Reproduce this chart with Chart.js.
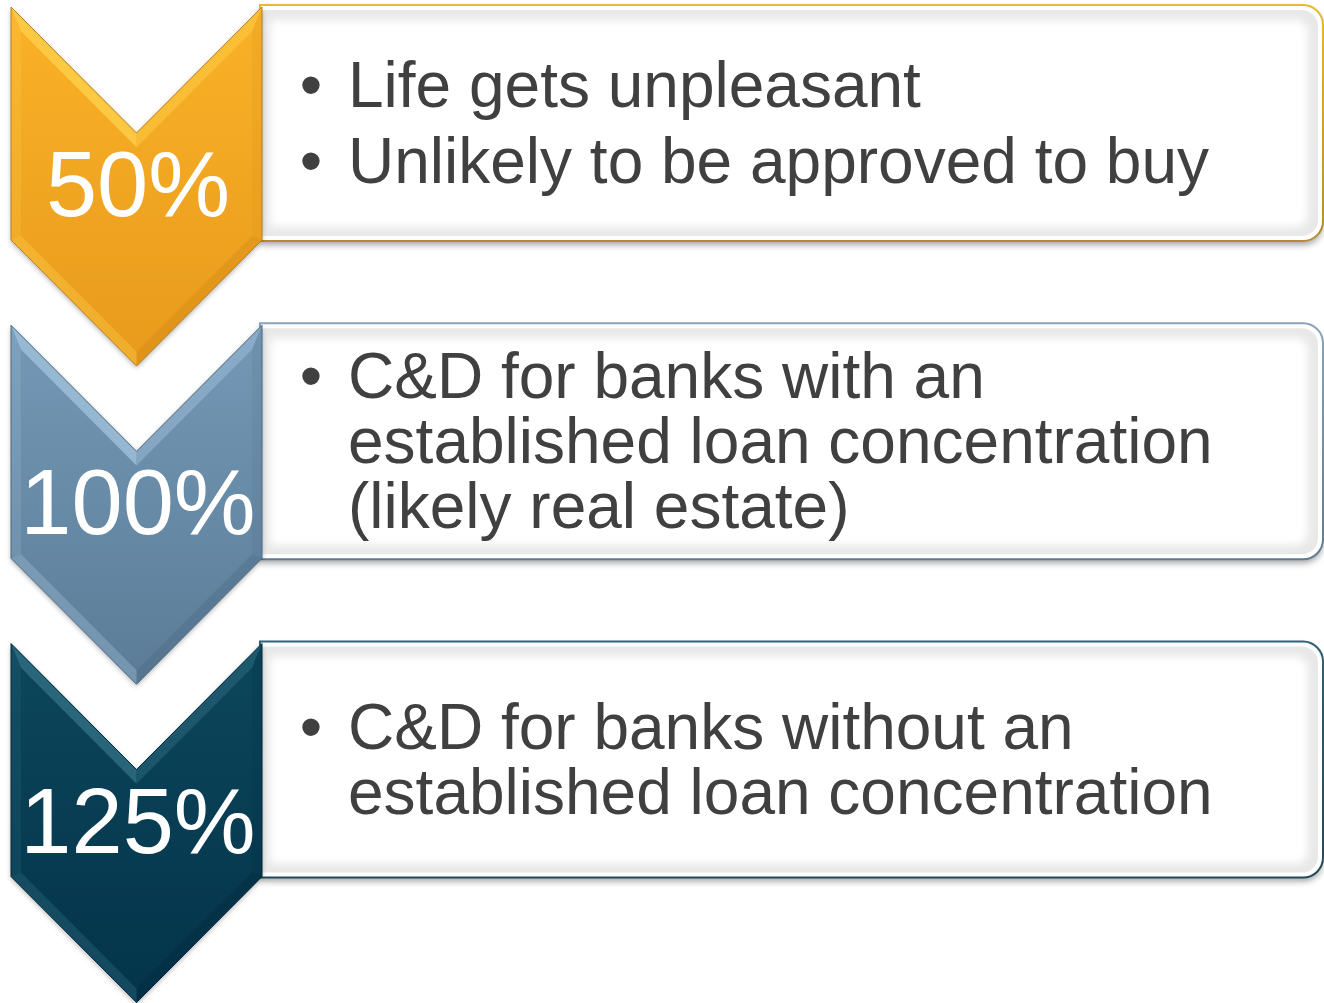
<!DOCTYPE html>
<html>
<head>
<meta charset="utf-8">
<script src="https://cdn.jsdelivr.net/npm/chart.js@4.4.1/dist/chart.umd.min.js"></script>
<style>
html, body { margin: 0; padding: 0; background: #fff; }
#wrap { width: 1324px; height: 1003px; }
</style>
</head>
<body>
<div id="wrap"><canvas id="ltv_steps"></canvas></div>
<script>
// 各段階の値(%)と説明文
const stepValues = [50, 100, 125];
const stepBullets = [
    ['Life gets unpleasant', 'Unlikely to be approved to buy'],
    ['C&D for banks with an established loan concentration (likely real estate)'],
    ['C&D for banks without an established loan concentration']
];

// 段階ごとの色 (シェブロン上, 下, ハイライト, 影, 枠線)
const stepColors = [
    { top: '#FAB228', bottom: '#E89A1C', light: '#FFD24C', dark: '#C98515', edge: '#B98020', frameTop: '#EAB82C', frameBottom: '#B58A32' },
    { top: '#7499B6', bottom: '#5B7C97', light: '#A3C4DD', dark: '#46657F', edge: '#4F6B82', frameTop: '#86A5BC', frameBottom: '#5E7A90' },
    { top: '#0D465B', bottom: '#03344A', light: '#347187', dark: '#01263A', edge: '#03293A', frameTop: '#2E6276', frameBottom: '#23495A' }
];

const ROW_STEP = 318.3;
const TEXT_FONT = '64px "Liberation Sans", Arial, sans-serif';
const PCT_FONT = '92px "Liberation Sans", Arial, sans-serif';

// ポリゴンを内側にdだけオフセットする(ベベル用)
function insetPolygon(pts, d) {
    const n = pts.length;
    const normals = [];
    for (let i = 0; i < n; i++) {
        const a = pts[i], b = pts[(i + 1) % n];
        const dx = b[0] - a[0], dy = b[1] - a[1];
        const len = Math.hypot(dx, dy);
        normals.push([-dy / len, dx / len]);
    }
    return pts.map((p, i) => {
        const n1 = normals[(i - 1 + n) % n], n2 = normals[i];
        const k = d / (1 + n1[0] * n2[0] + n1[1] * n2[1]);
        return [p[0] + (n1[0] + n2[0]) * k, p[1] + (n1[1] + n2[1]) * k];
    });
}

function polyPath(ctx, pts) {
    ctx.beginPath();
    ctx.moveTo(pts[0][0], pts[0][1]);
    for (let i = 1; i < pts.length; i++) ctx.lineTo(pts[i][0], pts[i][1]);
    ctx.closePath();
}

function boxPath(ctx, l, t, r, b, rad) {
    ctx.beginPath();
    ctx.moveTo(l, t);
    ctx.lineTo(r - rad, t);
    ctx.arcTo(r, t, r, t + rad, rad);
    ctx.lineTo(r, b - rad);
    ctx.arcTo(r, b, r - rad, b, rad);
    ctx.lineTo(l, b);
    ctx.closePath();
}

function wrapText(ctx, text, maxWidth) {
    const words = text.split(' ');
    const lines = [];
    let line = '';
    for (const w of words) {
        const test = line ? line + ' ' + w : w;
        if (line && ctx.measureText(test).width > maxWidth) {
            lines.push(line);
            line = w;
        } else {
            line = test;
        }
    }
    if (line) lines.push(line);
    return lines;
}

function drawBox(ctx, px, py, i) {
    const c = stepColors[i];
    const l = px(260), r = px(1323);
    const t = py(5 + i * ROW_STEP), b = py(241 + i * ROW_STEP);

    // 影付きの白い箱
    ctx.save();
    ctx.shadowColor = 'rgba(0,0,0,0.35)';
    ctx.shadowBlur = 6;
    ctx.shadowOffsetY = 4;
    boxPath(ctx, l, t, r, b, 20);
    ctx.fillStyle = '#fff';
    ctx.fill();
    ctx.restore();

    // 内側のエンボス
    ctx.save();
    boxPath(ctx, l, t + 5, r - 5, b - 5, 16);
    ctx.clip();
    ctx.fillStyle = '#e8e8e8';
    ctx.fillRect(l, t, r - l, b - t);
    ctx.filter = 'blur(4px)';
    boxPath(ctx, l + 10, t + 15, r - 15, b - 14, 12);
    ctx.fillStyle = '#fff';
    ctx.fill();
    ctx.restore();

    // 枠線
    ctx.save();
    const g = ctx.createLinearGradient(0, t, 0, b);
    g.addColorStop(0, c.frameTop);
    g.addColorStop(1, c.frameBottom);
    boxPath(ctx, l, t, r, b, 20);
    ctx.strokeStyle = g;
    ctx.lineWidth = 2;
    ctx.stroke();
    ctx.restore();
}

function drawChevron(ctx, px, py, i) {
    const c = stepColors[i];
    const top = 7 + i * ROW_STEP;
    const outer = [
        [px(11), py(top)], [px(136.5), py(top + 126)], [px(262), py(top)],
        [px(262), py(top + 233)], [px(136.5), py(top + 359)], [px(11), py(top + 233)]
    ];
    const inner = insetPolygon(outer, 10);

    ctx.save();
    ctx.shadowColor = 'rgba(0,0,0,0.3)';
    ctx.shadowBlur = 5;
    ctx.shadowOffsetY = 2;
    const g = ctx.createLinearGradient(0, outer[0][1], 0, outer[4][1]);
    g.addColorStop(0, c.top);
    g.addColorStop(1, c.bottom);
    polyPath(ctx, outer);
    ctx.fillStyle = g;
    ctx.fill();
    ctx.restore();

    // ベベルの面 (各辺ごとに明暗をつける)
    const faces = [
        [c.light, 0.75], [c.light, 0.45], [c.dark, 0.12],
        [c.dark, 0.3], [c.light, 0.35], [c.light, 0.2]
    ];
    for (let k = 0; k < 6; k++) {
        const k2 = (k + 1) % 6;
        ctx.save();
        ctx.globalAlpha = faces[k][1];
        polyPath(ctx, [outer[k], outer[k2], inner[k2], inner[k]]);
        ctx.fillStyle = faces[k][0];
        ctx.fill();
        ctx.restore();
    }

    ctx.save();
    polyPath(ctx, outer);
    ctx.strokeStyle = c.edge;
    ctx.lineWidth = 1;
    ctx.stroke();
    ctx.restore();

    // パーセント表示
    ctx.save();
    ctx.font = PCT_FONT;
    ctx.fillStyle = '#fff';
    ctx.textAlign = 'center';
    ctx.textBaseline = 'alphabetic';
    ctx.fillText(stepValues[i] + '%', px(138), py(top + 209));
    ctx.restore();
}

function drawBullets(ctx, px, py, i) {
    const lineH = 65, paraGap = 11;
    ctx.save();
    ctx.font = TEXT_FONT;
    ctx.fillStyle = '#404040';
    ctx.textBaseline = 'alphabetic';
    const paras = stepBullets[i].map(s => wrapText(ctx, s, 890));
    const nLines = paras.reduce((s, p) => s + p.length, 0);
    const blockH = nLines * lineH + (paras.length - 1) * paraGap;
    const center = 123 + i * ROW_STEP;
    let base = center - blockH / 2 + 54;
    for (const p of paras) {
        ctx.textAlign = 'center';
        ctx.fillText('\u2022', px(311), py(base));
        ctx.textAlign = 'left';
        for (const line of p) {
            ctx.fillText(line, px(348), py(base));
            base += lineH;
        }
        base += paraGap;
    }
    ctx.restore();
}

const chevronListPlugin = {
    id: 'chevronList',
    afterDraw(chart) {
        const ctx = chart.ctx;
        const px = v => chart.scales.x.getPixelForValue(v);
        const py = v => chart.scales.y.getPixelForValue(v);
        stepValues.forEach((v, i) => {
            drawBox(ctx, px, py, i);
            drawChevron(ctx, px, py, i);
            drawBullets(ctx, px, py, i);
        });
    }
};

const ctx = document.getElementById('ltv_steps').getContext('2d');
new Chart(ctx, {
    type: 'scatter',
    data: { datasets: [{ data: [] }] },
    options: {
        responsive: true,
        maintainAspectRatio: false,
        animation: false,
        events: [],
        layout: { padding: 0 },
        plugins: { legend: { display: false }, tooltip: { enabled: false } },
        scales: {
            x: { type: 'linear', min: 0, max: 1324, display: false },
            y: { type: 'linear', min: 0, max: 1003, reverse: true, display: false }
        }
    },
    plugins: [chevronListPlugin]
});
</script>
</body>
</html>
